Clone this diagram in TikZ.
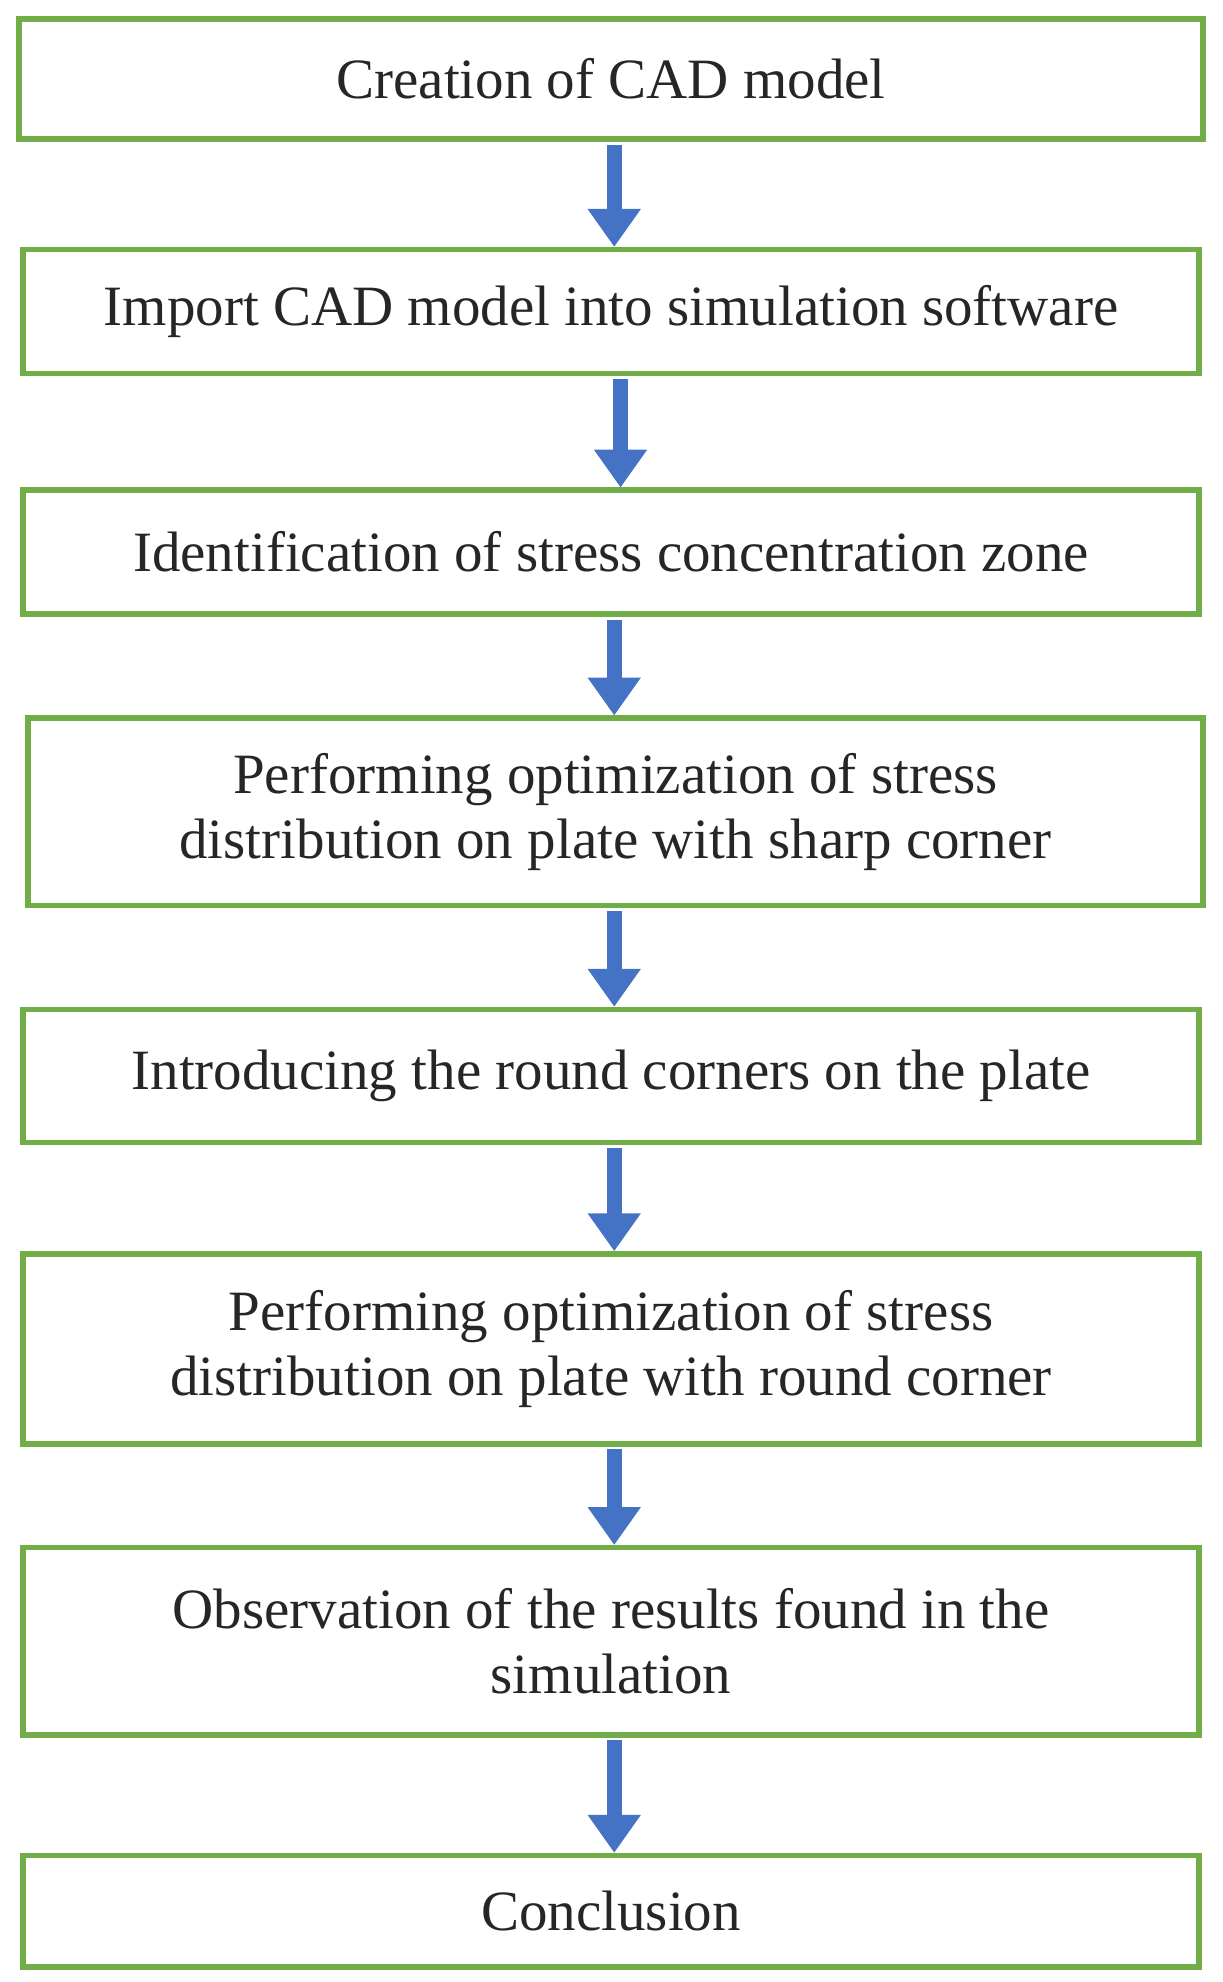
\documentclass[tikz,border=0pt]{standalone}
\usepackage{fontspec}
\setmainfont{Liberation Serif}
\usetikzlibrary{arrows.meta}
\definecolor{gbox}{HTML}{70AD47}
\definecolor{barrow}{HTML}{4472C4}
\begin{document}
\begin{tikzpicture}[x=1pt,y=-1pt,
  box/.style={draw=gbox,line width=4.5pt,inner sep=0pt,align=center,font=\fontsize{45}{51}\selectfont,text=black!85},
  arr/.style={draw=barrow,line width=12pt,-{Triangle[width=40pt,length=30pt]}}]
\useasboundingbox (0,0) rectangle (965,1565);
\newcommand\bx[6]{\node[box,minimum width={#3-#2},minimum height={#5-#4}] (#1) at ({(#2+#3)/2},{(#4+#5)/2}) {#6};}
\bx{b1}{15}{950}{15}{110}{Creation of CAD model}
\bx{b2}{18}{947}{197}{295}{Import CAD model into simulation software}
\bx{b3}{18}{947}{387}{485}{Identification of stress concentration zone}
\bx{b4}{22}{950}{567}{715}{Performing optimization of stress\\distribution on plate with sharp corner}
\bx{b5}{18}{947}{797}{902}{Introducing the round corners on the plate}
\bx{b6}{18}{947}{990}{1140}{Performing optimization of stress\\distribution on plate with round corner}
\bx{b7}{18}{947}{1222}{1370}{Observation of the results found in the\\simulation}
\bx{b8}{18}{947}{1465}{1553}{Conclusion}
\draw[arr] (b1.south -| 485,0) ++(0,2) -- (485,195);
\draw[arr] (b2.south -| 490,0) ++(0,2) -- (490,385);
\draw[arr] (b3.south -| 485,0) ++(0,2) -- (485,565);
\draw[arr] (b4.south -| 485,0) ++(0,2) -- (485,795);
\draw[arr] (b5.south -| 485,0) ++(0,2) -- (485,988);
\draw[arr] (b6.south -| 485,0) ++(0,2) -- (485,1220);
\draw[arr] (b7.south -| 485,0) ++(0,2) -- (485,1463);
\end{tikzpicture}
\end{document}
